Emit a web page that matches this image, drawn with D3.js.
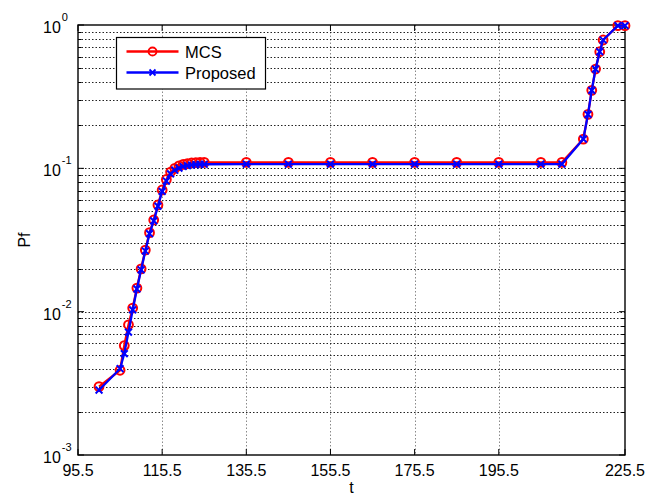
<!DOCTYPE html>
<html><head><meta charset="utf-8">
<script src="https://cdn.jsdelivr.net/npm/d3@7"></script>
<style>body{margin:0;background:#fff}svg{display:block}text{font-family:"Liberation Sans",Arial,Helvetica,sans-serif}</style>
</head><body>
<script>
const tValues = [100.5,105.5,106.5,107.5,108.5,109.5,110.5,111.5,112.5,113.5,114.5,115.5,116.5,117.5,118.5,119.5,120.5,121.5,122.5,123.5,124.5,125.5,135.5,145.5,155.5,165.5,175.5,185.5,195.5,205.5,210.5,215.6,216.7,217.6,218.5,219.5,220.3,223.8,225.5];
const mcs = [0.0030,0.0039,0.0058,0.0081,0.0106,0.0146,0.0199,0.0269,0.0356,0.0436,0.0555,0.0706,0.0836,0.0942,0.1000,0.1040,0.1065,0.1080,0.1090,0.1095,0.1100,0.1100,0.110,0.110,0.110,0.110,0.110,0.110,0.110,0.110,0.110,0.160,0.238,0.350,0.493,0.651,0.786,0.99,0.99];
const proposed = [0.00284,0.0040,0.0051,0.0072,0.0103,0.0144,0.0196,0.0265,0.0350,0.0430,0.0545,0.0690,0.0815,0.0915,0.0970,0.1005,0.1030,0.1045,0.1055,0.1062,0.1066,0.1068,0.107,0.107,0.107,0.107,0.107,0.107,0.107,0.107,0.107,0.160,0.238,0.350,0.493,0.651,0.786,0.99,0.99];
const xTicks = [95.5,115.5,135.5,155.5,175.5,195.5,225.5];
const yMajor = [1e-3,1e-2,1e-1,1e0];
const yExponents = ["-3","-2","-1","0"];
const seriesNames = ["MCS","Proposed"];

const W=657,H=499, L=78,R=625,T=25,B=455;
const svg=d3.select("body").append("svg").attr("width",W).attr("height",H);
const x=d3.scaleLinear().domain([95.5,225.5]).range([L,R]);
const y=d3.scaleLog().domain([1e-3,1]).range([B,T]);

const yMinor=[];
for(let e=-3;e<0;e++) for(let m=2;m<=9;m++) yMinor.push(m*Math.pow(10,e));

const g=svg.append("g");
g.selectAll(".vg").data(xTicks.filter(d=>d>95.5&&d<225.5)).join("line")
 .attr("x1",d=>Math.round(x(d))+0.5).attr("x2",d=>Math.round(x(d))+0.5).attr("y1",T).attr("y2",B)
 .attr("stroke","#8a8a8a").attr("stroke-width",1).attr("stroke-dasharray","1.5,2");
g.selectAll(".hg").data(yMinor.concat(yMajor.slice(1,3))).join("line")
 .attr("x1",L).attr("x2",R).attr("y1",d=>Math.round(y(d))+0.5).attr("y2",d=>Math.round(y(d))+0.5)
 .attr("stroke","#222").attr("stroke-width",1).attr("stroke-dasharray","1.5,2");

const tk=svg.append("g").attr("stroke","#000").attr("stroke-width",1);
xTicks.forEach(d=>{
  tk.append("line").attr("x1",x(d)).attr("x2",x(d)).attr("y1",B).attr("y2",B-6);
  tk.append("line").attr("x1",x(d)).attr("x2",x(d)).attr("y1",T).attr("y2",T+6);
});
yMajor.forEach(d=>{
  tk.append("line").attr("x1",L).attr("x2",L+6).attr("y1",y(d)).attr("y2",y(d));
  tk.append("line").attr("x1",R).attr("x2",R-6).attr("y1",y(d)).attr("y2",y(d));
});
yMinor.forEach(d=>{
  const yy=Math.round(y(d))+0.5;
  tk.append("line").attr("x1",L).attr("x2",L+3.5).attr("y1",yy).attr("y2",yy);
  tk.append("line").attr("x1",R).attr("x2",R-3.5).attr("y1",yy).attr("y2",yy);
});

svg.append("rect").attr("x",L).attr("y",T).attr("width",R-L).attr("height",B-T)
 .attr("fill","none").attr("stroke","#000").attr("stroke-width",1.4);

svg.selectAll(".xl").data(xTicks).join("text")
 .attr("x",d=>x(d)).attr("y",476).attr("text-anchor","middle").attr("font-size",16).text(d=>d.toFixed(1));
yMajor.forEach((d,i)=>{
  const t=svg.append("text").attr("x",43).attr("y",y(d)+8).attr("font-size",16);
  t.append("tspan").text("10");
  t.append("tspan").attr("font-size",11).attr("dx",1).attr("dy",-12).text(yExponents[i]);
});
svg.append("text").attr("x",(L+R)/2).attr("y",493).attr("text-anchor","middle").attr("font-size",16).text("t");
svg.append("text").attr("transform",`translate(30,${(T+B)/2}) rotate(-90)`).attr("text-anchor","middle").attr("font-size",16).text("Pf");

const ptsM=tValues.map((t,i)=>[t,mcs[i]]);
const ptsP=tValues.map((t,i)=>[t,proposed[i]]);
const line=d3.line().x(d=>x(d[0])).y(d=>y(d[1]));
const dg=svg.append("g");
dg.append("path").attr("d",line(ptsM)).attr("fill","none").attr("stroke","#ff0000").attr("stroke-width",2.3);
dg.selectAll(".cm").data(ptsM).join("circle").attr("cx",d=>x(d[0])).attr("cy",d=>y(d[1])).attr("r",4.4)
 .attr("fill","none").attr("stroke","#ff0000").attr("stroke-width",2);
dg.append("path").attr("d",line(ptsP)).attr("fill","none").attr("stroke","#0000ff").attr("stroke-width",2.3);
const s=3.4;
dg.selectAll(".xm").data(ptsP).join("path")
 .attr("d",d=>{const cx=x(d[0]),cy=y(d[1]);return `M${cx-s},${cy-s}L${cx+s},${cy+s}M${cx-s},${cy+s}L${cx+s},${cy-s}`;})
 .attr("stroke","#0000ff").attr("stroke-width",2).attr("fill","none");

const lg=svg.append("g");
lg.append("rect").attr("x",116.5).attr("y",37.5).attr("width",149).attr("height",51.5)
 .attr("fill","#fff").attr("stroke","#000").attr("stroke-width",1.2);
const colors=["#ff0000","#0000ff"], ly=[51.5,72.5];
seriesNames.forEach((n,i)=>{
  lg.append("line").attr("x1",126.5).attr("x2",178.5).attr("y1",ly[i]).attr("y2",ly[i]).attr("stroke",colors[i]).attr("stroke-width",2.3);
  if(i===0) lg.append("circle").attr("cx",152.5).attr("cy",ly[i]).attr("r",4).attr("fill","none").attr("stroke",colors[i]).attr("stroke-width",1.8);
  else lg.append("path").attr("d",`M${152.5-3},${ly[i]-3}L${152.5+3},${ly[i]+3}M${152.5-3},${ly[i]+3}L${152.5+3},${ly[i]-3}`).attr("stroke",colors[i]).attr("stroke-width",1.8);
  lg.append("text").attr("x",185).attr("y",ly[i]+6).attr("font-size",16.5).text(n);
});
</script>
</body></html>
